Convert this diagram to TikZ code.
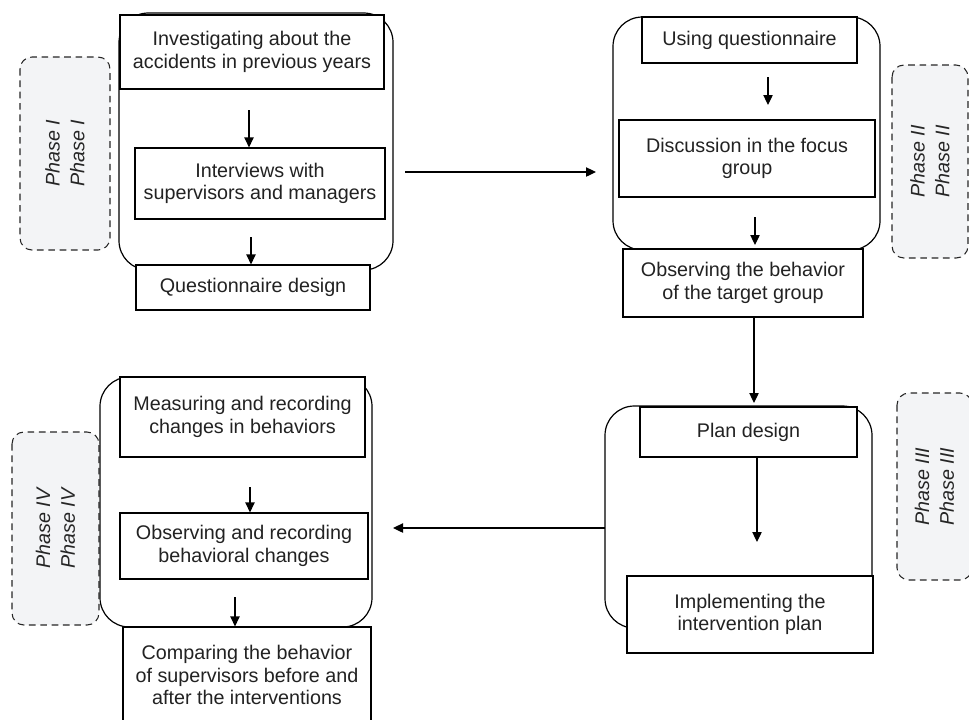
\documentclass[tikz,border=0pt]{standalone}
\usepackage{fontspec}
\setmainfont{Liberation Sans}
\usetikzlibrary{arrows.meta}
\definecolor{phasefill}{HTML}{F3F4F6}
\definecolor{txtgray}{HTML}{222222}

\begin{document}
\begin{tikzpicture}[x=0.75pt,y=0.75pt,yscale=-1,xscale=1,
  stepbox/.style={draw, fill=white, line width=0.9pt, align=center, inner sep=0pt,
    font=\fontsize{14.8}{17}\selectfont, text=txtgray},
  grp/.style={draw, line width=0.9pt, rounded corners=22pt},
  phasebox/.style={draw=black!85, line width=0.8pt, dash pattern=on 5pt off 3.5pt, fill=phasefill,
    rounded corners=9pt, rotate=90, align=center, inner sep=0pt,
    font=\fontsize{14.8}{18.5}\selectfont\itshape, text=black!85},
  arr/.style={-{Triangle[length=7.5pt,width=7pt]}, line width=0.9pt}]
%set diagram size: 969 x 719
\useasboundingbox (0,0) rectangle (969,719);

%Phase groups (rounded frames)
\draw[grp] (119,13) rectangle (393,270);
\draw[grp] (613,17) rectangle (880,250);
\draw[grp] (605,406) rectangle (872,628);
\draw[grp] (100,377) rectangle (372,627);

%Phase labels
\node[phasebox, minimum width=144.75pt, minimum height=67.5pt] (ph1) at (65,153.5) {Phase I\\Phase I};
\node[phasebox, minimum width=144.75pt, minimum height=57pt] (ph2) at (930,161.5) {Phase II\\Phase II};
\node[phasebox, minimum width=140.25pt, minimum height=56.25pt] (ph3) at (934.5,486.5) {Phase III\\Phase III};
\node[phasebox, minimum width=144.75pt, minimum height=65.25pt] (ph4) at (55.5,528.5) {Phase IV\\Phase IV};

%Phase I
\node[stepbox, minimum width=198pt, minimum height=55.5pt] (inv) at (252,52) {Investigating about the\\accidents in previous years};
\node[stepbox, minimum width=187.5pt, minimum height=53.25pt] (intv) at (260,183.5) {Interviews with\\supervisors and managers};
\node[stepbox, minimum width=175.5pt, minimum height=33.75pt] (qdes) at (253,287.5) {Questionnaire design};

%Phase II
\node[stepbox, minimum width=161.25pt, minimum height=34.5pt] (useq) at (749.5,40) {Using questionnaire};
\node[stepbox, minimum width=192pt, minimum height=57.75pt] (disc) at (747,158.5) {Discussion in the focus\\group};
\node[stepbox, minimum width=180pt, minimum height=51pt] (obs) at (743,283) {Observing the behavior\\of the target group};

%Phase III
\node[stepbox, minimum width=162.75pt, minimum height=37.5pt] (plan) at (748.5,432) {Plan design};
\node[stepbox, minimum width=184.5pt, minimum height=57.75pt] (impl) at (750,614.5) {Implementing the\\intervention plan};

%Phase IV
\node[stepbox, minimum width=183.75pt, minimum height=60pt] (meas) at (242.5,417) {Measuring and recording\\changes in behaviors};
\node[stepbox, minimum width=186pt, minimum height=49.5pt] (obsr) at (244,546) {Observing and recording\\behavioral changes};
\node[stepbox, minimum width=186pt, minimum height=72pt, text depth=0pt] (comp) at (247,675) {Comparing the behavior\\of supervisors before and\\after the interventions};

%Arrows
\coordinate (a1) at (249,110);
\coordinate (a2) at (251,237);
\coordinate (a3s) at (768,77);
\coordinate (a3e) at (768,105);
\coordinate (a4s) at (755,217);
\coordinate (a4e) at (755,245);
\coordinate (a5) at (754,403);
\coordinate (a6) at (757,542);
\coordinate (a7) at (250,487);
\coordinate (a8) at (235,597);
\coordinate (h1s) at (405,172);
\coordinate (h1e) at (596,172);
\coordinate (h2s) at (605,528);
\coordinate (h2e) at (393,528);

\draw[arr] (a1) -- (a1 |- intv.north);
\draw[arr] (a2) -- (a2 |- qdes.north);
\draw[arr] (h1s) -- (h1e);
\draw[arr] (a3s) -- (a3e);
\draw[arr] (a4s) -- (a4e);
\draw[arr] (a5 |- obs.south) -- (a5);
\draw[arr] (a6 |- plan.south) -- (a6);
\draw[arr] (h2s) -- (h2e);
\draw[arr] (a7) -- (a7 |- obsr.north);
\draw[arr] (a8) -- (a8 |- comp.north);

\end{tikzpicture}
\end{document}
